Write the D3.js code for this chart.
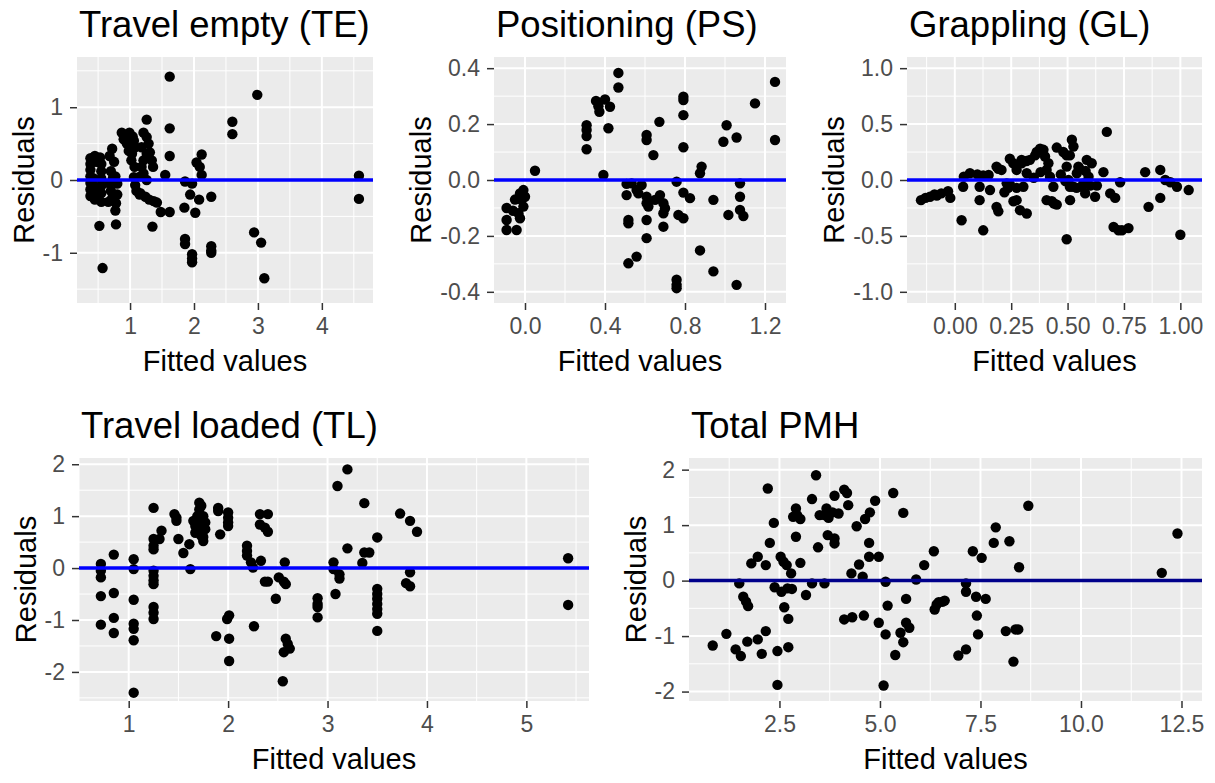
<!DOCTYPE html>
<html><head><meta charset="utf-8">
<script src="https://cdn.jsdelivr.net/npm/d3@7"></script>
<style>
body{margin:0;background:#fff}
svg{display:block}
text{font-family:"Liberation Sans",Arial,sans-serif}
</style>
</head><body>
<svg id="c" width="1215" height="783"></svg>
<script>
// ---------------- DATA ----------------
const titles = ["Travel empty (TE)", "Positioning (PS)", "Grappling (GL)", "Travel loaded (TL)", "Total PMH"];
const xAxisTitle = "Fitted values";
const yAxisTitle = "Residuals";

// Travel empty (TE): [fitted, residual]
const te_points = [
 [1.62,1.42],[2.99,1.17],[1.26,0.83],[2.60,0.80],[2.60,0.63],[1.62,0.71],[1.62,0.33],[2.12,0.35],[2.04,0.24],
 [2.09,0.18],[2.12,0.07],[1.55,0.07],[4.58,0.06],[4.58,-0.26],[2.27,-0.23],[1.86,-0.02],[1.97,-0.05],[1.94,-0.20],
 [2.08,-0.27],[1.85,-0.38],[2.02,-0.45],[1.48,-0.44],[1.62,-0.44],[1.35,-0.64],[0.78,-0.61],[0.52,-0.63],[0.77,-0.42],
 [0.57,-1.21],[1.86,-0.81],[1.86,-0.88],[1.97,-1.02],[1.97,-1.08],[1.97,-1.13],[2.27,-0.91],[2.27,-0.97],[2.27,-1.00],
 [2.94,-0.72],[3.05,-0.86],[3.10,-1.35],
 [0.38,0.30],[0.38,0.22],[0.38,0.14],[0.38,0.05],[0.38,-0.04],[0.38,-0.13],[0.38,-0.22],[0.45,0.33],[0.45,-0.27],
 [0.47,0.25],[0.45,-0.18],[0.53,0.31],[0.55,0.22],[0.55,0.12],[0.55,0.02],[0.55,-0.08],[0.55,-0.18],[0.55,-0.30],
 [0.43,0.02],[0.50,-0.10],
 [0.68,0.33],[0.72,0.43],[0.75,0.25],[0.70,0.12],[0.68,-0.05],[0.70,-0.15],[0.72,-0.25],[0.78,-0.32],[0.80,-0.20],
 [0.80,-0.05],[0.77,0.05],[0.66,-0.30],[0.73,0.02],
 [0.87,0.65],[0.92,0.62],[0.99,0.65],[1.04,0.60],[1.06,0.54],[1.08,0.45],[1.03,0.36],[1.02,0.27],[1.07,0.18],
 [0.90,0.56],[0.95,0.50],[1.06,0.04],[1.08,-0.07],[1.10,-0.15],[1.15,-0.20],[0.98,0.40],
 [1.21,0.65],[1.26,0.59],[1.29,0.50],[1.31,0.38],[1.34,0.27],[1.36,0.18],[1.26,0.36],[1.21,0.27],[1.18,0.18],
 [1.21,0.09],[1.26,0.00],[1.16,0.05],[1.18,0.45],
 [1.16,-0.18],[1.24,-0.23],[1.30,-0.27],[1.37,-0.29],[1.42,-0.31]
];

// Positioning (PS)
const ps_points = [
 [0.467,0.383],[0.467,0.331],[1.25,0.351],[1.15,0.274],[0.308,0.196],[0.308,0.179],[0.308,0.157],[0.308,0.110],
 [0.355,0.283],[0.367,0.264],[0.372,0.244],[0.40,0.288],[0.425,0.262],[0.417,0.185],[0.392,0.018],[0.05,0.033],
 [-0.092,-0.10],[-0.092,-0.143],[-0.092,-0.179],[-0.042,-0.179],[-0.033,-0.119],[-0.017,-0.071],[-0.008,-0.036],
 [0.0,-0.06],[-0.008,-0.095],[-0.025,-0.137],[-0.05,-0.07],[-0.025,-0.048],[-0.06,-0.11],[-0.015,-0.05],
 [0.508,-0.014],[0.508,-0.054],[0.517,-0.143],[0.517,-0.155],[0.517,-0.298],[0.558,-0.274],[0.533,-0.012],
 [0.558,-0.036],[0.583,-0.018],[0.567,-0.048],[0.608,0.161],[0.608,0.143],[0.642,0.089],[0.672,0.208],
 [0.608,-0.06],[0.608,-0.083],[0.617,-0.095],[0.608,-0.143],[0.608,-0.208],[0.65,-0.071],[0.675,-0.054],
 [0.692,-0.083],[0.692,-0.119],[0.692,-0.167],[0.70,-0.101],[0.758,-0.006],[0.767,-0.125],[0.792,-0.137],
 [0.758,-0.357],[0.758,-0.375],[0.758,-0.387],[0.792,0.298],[0.792,0.286],[0.792,0.232],[0.792,0.117],
 [0.792,-0.045],[0.825,-0.065],[0.875,-0.252],[0.875,0.024],[0.883,0.048],[0.942,-0.327],[0.942,-0.071],
 [1.008,0.196],[0.992,0.137],[1.058,0.152],[1.017,-0.125],[1.075,-0.012],[1.075,-0.06],[1.075,-0.107],
 [1.092,-0.129],[1.058,-0.375],[1.25,0.143]
];

// Grappling (GL)
const gl_points = [
 [-0.15,-0.18],[-0.13,-0.16],[-0.11,-0.15],[-0.08,-0.14],[-0.06,-0.12],[-0.03,-0.10],[-0.02,-0.16],[-0.09,-0.13],
 [0.03,-0.36],[0.037,-0.06],[0.04,0.03],[0.067,0.06],[0.10,0.05],[0.126,0.04],[0.11,-0.06],[0.11,-0.18],[0.126,-0.45],
 [0.15,0.045],[0.156,-0.09],[0.185,0.12],[0.185,-0.24],[0.193,-0.28],[0.193,0.10],[0.207,0.09],[0.23,-0.03],
 [0.237,-0.07],[0.244,0.19],[0.259,0.15],[0.244,-0.04],[0.274,-0.07],[0.22,-0.11],[0.26,-0.19],[0.274,-0.18],
 [0.289,-0.27],[0.319,-0.30],[0.274,0.09],[0.296,0.15],[0.296,0.18],[0.304,-0.06],[0.319,0.06],[0.318,0.17],
 [0.333,0.18],[0.356,0.22],[0.363,0.25],[0.378,0.28],[0.393,0.27],[0.40,0.21],[0.415,0.15],[0.407,0.09],[0.35,0.02],
 [0.38,0.07],[0.422,0.03],[0.437,-0.06],[0.407,-0.18],[0.43,-0.19],[0.44,-0.21],[0.452,-0.22],[0.452,0.29],
 [0.481,0.25],[0.496,0.22],[0.51,0.22],[0.519,0.36],[0.526,0.30],[0.496,0.12],[0.504,0.00],[0.49,-0.01],
 [0.511,-0.18],[0.526,-0.06],[0.541,0.06],[0.548,0.12],[0.563,-0.06],[0.578,-0.12],[0.585,0.18],[0.593,0.03],
 [0.607,0.15],[0.55,0.11],[0.58,0.08],[0.47,0.05],[0.57,-0.03],[0.60,-0.05],[0.622,-0.15],[0.63,-0.05],[0.659,0.07],
 [0.674,0.43],[0.689,-0.12],[0.711,-0.16],[0.704,-0.42],[0.726,-0.45],[0.741,-0.45],[0.77,-0.43],[0.733,-0.02],
 [0.844,0.07],[0.859,-0.24],[0.911,0.09],[0.911,-0.16],[0.933,0.00],[0.956,-0.02],[0.985,-0.06],[1.0,-0.49],
 [1.037,-0.09],[0.496,-0.53],[0.54,-0.07],[0.51,-0.06]
];

// Travel loaded (TL)
const tl_points = [
 [0.72,0.08],[0.72,-0.05],[0.72,-0.18],[0.72,-0.54],[0.72,-1.09],
 [0.85,0.26],[0.85,-0.48],[0.85,-0.96],[0.85,-1.25],
 [1.05,0.17],[1.05,-0.02],[1.05,-0.61],[1.05,-1.07],[1.05,-1.17],[1.05,-1.39],[1.05,-2.40],
 [1.25,1.16],[1.25,0.56],[1.25,0.43],[1.25,0.36],[1.25,-0.05],[1.25,-0.15],[1.25,-0.24],[1.25,-0.31],[1.25,-0.75],
 [1.25,-0.86],[1.25,-0.98],[1.33,0.72],[1.31,0.56],
 [1.46,1.04],[1.48,0.97],[1.48,0.91],[1.50,0.56],[1.55,0.29],[1.61,0.46],[1.62,-0.02],
 [1.65,0.91],[1.67,0.81],[1.69,1.00],[1.71,1.26],[1.71,1.13],[1.71,0.88],[1.71,0.75],[1.73,0.62],[1.75,0.52],
 [1.75,1.00],[1.77,0.88],[1.77,0.75],[1.73,1.20],[1.67,0.68],[1.75,0.60],[1.69,0.80],
 [1.90,1.16],[1.90,1.10],[1.92,0.65],[2.00,1.07],[2.00,0.97],[2.00,0.88],[2.00,0.81],
 [1.88,-1.31],[2.01,-0.91],[1.99,-0.98],[2.01,-1.36],[2.01,-1.79],
 [2.19,0.43],[2.19,0.33],[2.19,0.24],[2.23,0.11],[2.25,0.01],[2.26,-1.12],
 [2.32,1.04],[2.40,1.04],[2.32,0.84],[2.37,0.78],[2.40,0.70],[2.33,0.14],
 [2.37,-0.26],[2.40,-0.26],[2.48,-0.59],[2.51,-0.18],[2.56,-0.26],[2.58,-0.31],[2.57,0.11],
 [2.55,-2.18],[2.58,-1.36],[2.60,-1.46],[2.62,-1.55],[2.56,-1.62],
 [2.90,-0.58],[2.90,-0.69],[2.90,-0.75],[2.90,-0.95],
 [3.06,0.11],[3.06,-0.02],[3.08,-0.50],[3.12,-0.12],[3.12,-0.20],
 [3.10,1.58],[3.20,1.90],[3.20,0.38],[3.35,0.10],[3.37,1.25],[3.37,0.30],[3.42,0.30],[3.50,0.59],
 [3.50,-0.40],[3.50,-0.50],[3.50,-0.59],[3.50,-0.69],[3.50,-0.79],[3.50,-0.88],[3.50,-1.21],
 [3.73,1.05],[3.83,0.91],[3.90,0.70],[3.79,-0.29],[3.83,-0.35],[3.83,-0.08],
 [5.42,0.19],[5.42,-0.71]
];

// Total PMH
const pmh_points = [
 [0.84,-1.17],[1.18,-0.96],[1.41,-1.24],[1.54,-1.36],[1.50,-0.05],[1.60,-0.29],[1.67,-0.38],[1.72,-0.46],[1.70,-1.10],
 [1.80,0.31],[1.96,0.43],[1.96,-1.06],[2.06,-1.32],[2.16,-0.91],[2.16,0.28],[2.21,1.66],[2.26,0.68],[2.36,1.04],
 [2.38,-0.12],[2.45,-1.27],[2.45,-1.88],[2.53,0.43],[2.55,-0.20],[2.60,0.34],[2.62,-0.48],[2.68,0.28],[2.70,-0.14],
 [2.72,-0.69],[2.72,-1.20],[2.79,0.13],[2.81,-0.15],[2.84,1.15],[2.91,1.30],[2.91,0.79],[2.94,1.18],[3.02,1.11],
 [3.02,0.32],[3.16,-0.26],[3.31,1.47],[3.31,-0.05],[3.41,1.90],[3.46,0.60],[3.50,1.18],[3.62,-0.05],[3.62,1.18],
 [3.67,1.30],[3.72,1.13],[3.70,0.82],[3.82,1.23],[3.87,1.53],[3.87,0.76],[3.87,0.67],[3.97,1.21],[4.11,-0.70],
 [4.11,1.64],[4.18,1.58],[4.21,1.36],[4.29,0.13],[4.31,-0.66],[4.42,0.98],[4.48,0.29],[4.57,0.07],[4.60,-0.63],
 [4.63,1.11],[4.73,0.68],[4.73,0.43],[4.75,1.23],[4.88,1.44],[4.97,0.43],[4.97,-0.76],[5.09,-1.89],[5.14,-0.97],
 [5.14,-0.02],[5.19,-0.45],[5.33,1.58],[5.38,-1.34],[5.51,-0.94],[5.58,1.22],[5.58,-1.11],[5.65,-0.33],[5.65,-0.76],
 [5.73,-0.85],[5.90,0.02],[6.10,0.28],[6.34,0.53],[6.36,-0.52],[6.41,-0.43],[6.46,-0.39],[6.56,-0.38],[6.61,-0.36],
 [6.95,-1.35],[7.14,-1.24],[7.14,-0.05],[7.14,-0.20],[7.31,0.53],[7.39,-0.29],[7.41,-0.63],[7.44,-0.97],[7.53,0.41],
 [7.63,-0.33],[7.83,0.68],[7.88,0.96],[8.13,-0.91],[8.22,0.71],[8.32,-1.46],[8.37,-0.88],[8.46,0.24],[8.44,-0.88],
 [8.69,1.35],[12.01,0.14],[12.40,0.85]
];

// tick labels (axis breaks)
const te_xticks = [1,2,3,4],            te_yticks = [-1,0,1];
const ps_xticks = [0.0,0.4,0.8,1.2],    ps_yticks = [-0.4,-0.2,0.0,0.2,0.4];
const gl_xticks = [0.00,0.25,0.50,0.75,1.00], gl_yticks = [-1.0,-0.5,0.0,0.5,1.0];
const tl_xticks = [1,2,3,4,5],          tl_yticks = [-2,-1,0,1,2];
const pmh_xticks = [2.5,5.0,7.5,10.0,12.5], pmh_yticks = [-2,-1,0,1,2];

// axis limits
const te_xlim = [0.17,4.80],  te_ylim = [-1.69,1.69];
const ps_xlim = [-0.155,1.305], ps_ylim = [-0.44,0.44];
const gl_xlim = [-0.212,1.096], gl_ylim = [-1.1,1.1];
const tl_xlim = [0.5,5.63],   tl_ylim = [-2.56,2.12];
const pmh_xlim = [0.25,13.01], pmh_ylim = [-2.17,2.21];

// ---------------- LAYOUT / STYLE ----------------
const panels = [
 {title:titles[0], pts:te_points, xt:te_xticks, yt:te_yticks, xl:te_xlim, yl:te_ylim, fx:d3.format("d"), fy:d3.format("d"), box:{l:77,t:57,r:373,b:303}, line:"#0000ff"},
 {title:titles[1], pts:ps_points, xt:ps_xticks, yt:ps_yticks, xl:ps_xlim, yl:ps_ylim, fx:d3.format(".1f"), fy:d3.format(".1f"), box:{l:494,t:57,r:786,b:303}, line:"#0000ff"},
 {title:titles[2], pts:gl_points, xt:gl_xticks, yt:gl_yticks, xl:gl_xlim, yl:gl_ylim, fx:d3.format(".2f"), fy:d3.format(".1f"), box:{l:907,t:57,r:1202,b:303}, line:"#0000ff"},
 {title:titles[3], pts:tl_points, xt:tl_xticks, yt:tl_yticks, xl:tl_xlim, yl:tl_ylim, fx:d3.format("d"), fy:d3.format("d"), box:{l:79,t:458,r:589,b:701}, line:"#0000ff"},
 {title:titles[4], pts:pmh_points, xt:pmh_xticks, yt:pmh_yticks, xl:pmh_xlim, yl:pmh_ylim, fx:d3.format(".1f"), fy:d3.format("d"), box:{l:689,t:458,r:1202,b:701}, line:"#00008b"}
];

const svg = d3.select("#c");
const TICK_FS = 23, AX_FS = 29, TITLE_FS = 36.5;
const minusFix = s => s.replace("−","-");

function minors(ticks, dom){
  const step = ticks[1]-ticks[0];
  const out = [];
  for (let v = ticks[0]-step/2; v <= dom[1]+1e-9; v += step) if (v >= dom[0]-1e-9) out.push(v);
  return out;
}

panels.forEach(p => {
  const b = p.box;
  const x = d3.scaleLinear().domain(p.xl).range([b.l, b.r]);
  const y = d3.scaleLinear().domain(p.yl).range([b.b, b.t]);
  const g = svg.append("g");

  g.append("rect").attr("x",b.l).attr("y",b.t).attr("width",b.r-b.l).attr("height",b.b-b.t).attr("fill","#ebebeb");

  // minor grid
  minors(p.xt, p.xl).forEach(v => g.append("line").attr("x1",x(v)).attr("x2",x(v)).attr("y1",b.t).attr("y2",b.b).attr("stroke","#fff").attr("stroke-width",1));
  minors(p.yt, p.yl).forEach(v => g.append("line").attr("y1",y(v)).attr("y2",y(v)).attr("x1",b.l).attr("x2",b.r).attr("stroke","#fff").attr("stroke-width",1));
  // major grid
  p.xt.forEach(v => g.append("line").attr("x1",x(v)).attr("x2",x(v)).attr("y1",b.t).attr("y2",b.b).attr("stroke","#fff").attr("stroke-width",2));
  p.yt.forEach(v => g.append("line").attr("y1",y(v)).attr("y2",y(v)).attr("x1",b.l).attr("x2",b.r).attr("stroke","#fff").attr("stroke-width",2));

  // points
  g.append("g").selectAll("circle").data(p.pts).join("circle")
    .attr("cx", d => x(d[0])).attr("cy", d => y(d[1])).attr("r", 5.2).attr("fill","#000");

  // zero line
  g.append("line").attr("x1",b.l).attr("x2",b.r).attr("y1",y(0)).attr("y2",y(0)).attr("stroke",p.line).attr("stroke-width",3.5);

  // axes via d3
  const xa = d3.axisBottom(x).tickValues(p.xt).tickFormat(d => minusFix(p.fx(d))).tickSize(7).tickPadding(4);
  const ya = d3.axisLeft(y).tickValues(p.yt).tickFormat(d => minusFix(p.fy(d))).tickSize(7).tickPadding(7);
  const gx = g.append("g").attr("transform",`translate(0,${b.b})`).call(xa);
  const gy = g.append("g").attr("transform",`translate(${b.l},0)`).call(ya);
  [gx,gy].forEach(a => {
    a.select(".domain").remove();
    a.selectAll(".tick line").attr("stroke","#333").attr("stroke-width",1.5);
    a.selectAll(".tick text").attr("fill","#4d4d4d").style("font-size",TICK_FS+"px").style("font-family",'"Liberation Sans",Arial,sans-serif');
  });
  gx.selectAll(".tick text").attr("dy","0.85em");

  // widest y tick label
  let maxW = 0;
  gy.selectAll(".tick text").each(function(){ maxW = Math.max(maxW, this.getComputedTextLength()); });

  // title
  g.append("text").attr("x", b.l + 2).attr("y", b.t - 20).attr("fill","#000")
    .style("font-size",TITLE_FS+"px").text(p.title);
  // x axis title
  g.append("text").attr("x",(b.l+b.r)/2).attr("y", b.b + 68).attr("text-anchor","middle")
    .style("font-size",AX_FS+"px").attr("fill","#000").text(xAxisTitle);
  // y axis title
  const yx = b.l - 14 - maxW - 9;
  g.append("text").attr("transform",`translate(${yx},${(b.t+b.b)/2}) rotate(-90)`).attr("text-anchor","middle")
    .style("font-size",AX_FS+"px").attr("fill","#000").text(yAxisTitle);
});
</script>
</body></html>
